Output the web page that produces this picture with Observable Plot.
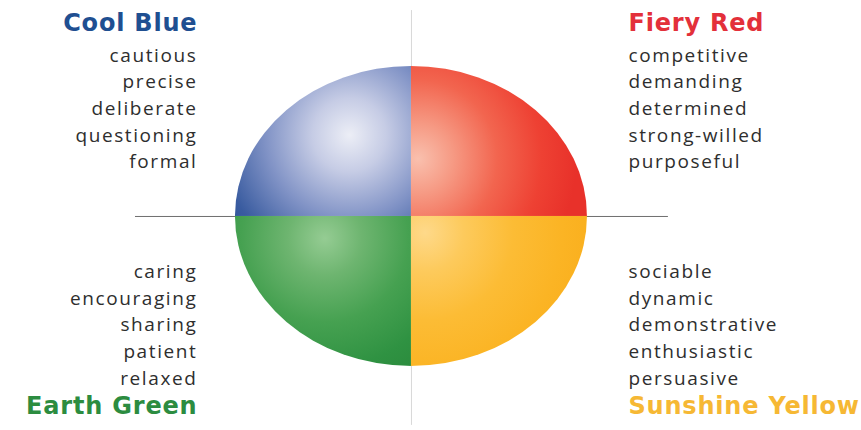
<!DOCTYPE html>
<html>
<head>
<meta charset="utf-8">
<script src="https://cdn.jsdelivr.net/npm/d3@7"></script>
<script src="https://cdn.jsdelivr.net/npm/@observablehq/plot@0.6"></script>
<style>
  html, body { margin: 0; padding: 0; background: #ffffff; }
  #chart svg { display: block; }
</style>
</head>
<body>
<div id="chart"></div>
<script>
// ---- data ----
const styleNames = ["Cool Blue", "Fiery Red", "Earth Green", "Sunshine Yellow"];
const coolBlueWords = ["cautious", "precise", "deliberate", "questioning", "formal"];
const fieryRedWords = ["competitive", "demanding", "determined", "strong-willed", "purposeful"];
const earthGreenWords = ["caring", "encouraging", "sharing", "patient", "relaxed"];
const sunshineYellowWords = ["sociable", "dynamic", "demonstrative", "enthusiastic", "persuasive"];

// ---- styles (colours) ----
const titleColors = ["#1f4f91", "#e3303a", "#2c8c40", "#f6b834"];
const gradientStops = [
  ["#eceef6", "#c6cce5", "#8193c6", "#3a5ca0", "#1f4a92"],
  ["#f9c0ae", "#f69a84", "#f2654f", "#ee4133", "#e8312a"],
  ["#95cc93", "#6eb570", "#46a151", "#2f9242", "#2a893b"],
  ["#fed98a", "#fdca5c", "#fcbc35", "#fbb424", "#f9ae1c"]
];

// ---- layout (data units: ellipse radius = 1) ----
const sideSign = [-1, 1, -1, 1];
const vertSign = [1, 1, -1, -1];
const highlight = [[-0.35, 0.54, 0.95], [0.04, 0.38, 0.9], [-0.49, -0.15, 0.95], [0.08, -0.11, 1.0]];
const labelX = {"-1": -1.216, "1": 1.233};
const topTitleY = 1.235, topFirstY = 1.033;
const botFirstY = -0.41, botTitleY = -1.32;
const rowStep = 0.178;

const wordLists = [coolBlueWords, fieryRedWords, earthGreenWords, sunshineYellowWords];

const quads = styleNames.map((name, i) => ({
  name, sx: sideSign[i], sy: vertSign[i], fill: `url(#grad${i})`, id: `grad${i}`,
  hx: highlight[i][0], hy: highlight[i][1], hr: highlight[i][2], stops: gradientStops[i]
}));

const titles = styleNames.map((name, i) => ({
  text: name, side: sideSign[i], color: titleColors[i], x: labelX[sideSign[i]],
  y: vertSign[i] > 0 ? topTitleY : botTitleY
}));

const words = wordLists.flatMap((list, i) => list.map((w, j) => ({
  text: w, side: sideSign[i], x: labelX[sideSign[i]],
  y: (vertSign[i] > 0 ? topFirstY : botFirstY) - j * rowStep
})));

function defsMark(index, scales) {
  const {x, y} = scales;
  const g = d3.create("svg:g");
  const defs = g.append("defs");
  defs.append("clipPath").attr("id", "quadClip")
    .append("ellipse")
    .attr("cx", x(0)).attr("cy", y(0))
    .attr("rx", x(1) - x(0)).attr("ry", y(0) - y(1));
  const rx = x(1) - x(0);
  quads.forEach(q => {
    const rg = defs.append("radialGradient").attr("id", q.id)
      .attr("gradientUnits", "userSpaceOnUse")
      .attr("cx", x(q.hx)).attr("cy", y(q.hy)).attr("r", rx * q.hr);
    const offs = [0, 0.22, 0.5, 0.78, 1];
    q.stops.forEach((c, k) => rg.append("stop").attr("offset", offs[k]).attr("stop-color", c));
  });
  return g.node();
}

const wordFont = "'Open Sans', 'DejaVu Sans', sans-serif";
const titleFont = "'DejaVu Sans', 'Open Sans', sans-serif";

const chart = Plot.plot({
  width: 861,
  height: 430,
  margin: 0,
  x: {domain: [-2.335, 2.557], axis: null},
  y: {domain: [-1.427, 1.44], axis: null},
  color: {type: "identity"},
  marks: [
    defsMark,
    Plot.ruleX([0], {y1: -1.393, y2: 1.373, stroke: "#d8d8d8", strokeWidth: 1}),
    Plot.ruleY([0], {x1: -1.568, x2: 1.46, stroke: "#6f6f6f", strokeWidth: 1}),
    Plot.rect(quads, {x1: 0, x2: "sx", y1: 0, y2: "sy", fill: "fill"}),
    Plot.text(words.filter(d => d.side < 0), {x: "x", y: "y", text: "text", textAnchor: "end", lineAnchor: "bottom",
      fill: "#2e2e2e", fontSize: 19, fontFamily: wordFont}),
    Plot.text(words.filter(d => d.side > 0), {x: "x", y: "y", text: "text", textAnchor: "start", lineAnchor: "bottom",
      fill: "#2e2e2e", fontSize: 19, fontFamily: wordFont}),
    Plot.text(titles.filter(d => d.side < 0), {x: "x", y: "y", text: "text", textAnchor: "end", lineAnchor: "bottom",
      fill: "color", fontSize: 24, fontWeight: "bold", fontFamily: titleFont}),
    Plot.text(titles.filter(d => d.side > 0), {x: "x", y: "y", text: "text", textAnchor: "start", lineAnchor: "bottom",
      fill: "color", fontSize: 24, fontWeight: "bold", fontFamily: titleFont})
  ]
});

const rectGroup = chart.querySelector('g[aria-label="rect"]');
if (rectGroup) rectGroup.setAttribute("clip-path", "url(#quadClip)");
const textGroups = chart.querySelectorAll('g[aria-label="text"]');
textGroups.forEach((g, i) => {
  g.style.letterSpacing = i < 2 ? "1.6px" : "0.8px";
  g.style.fontWeight = i < 2 ? "500" : "bold";
});
document.getElementById("chart").appendChild(chart);
</script>
</body>
</html>
